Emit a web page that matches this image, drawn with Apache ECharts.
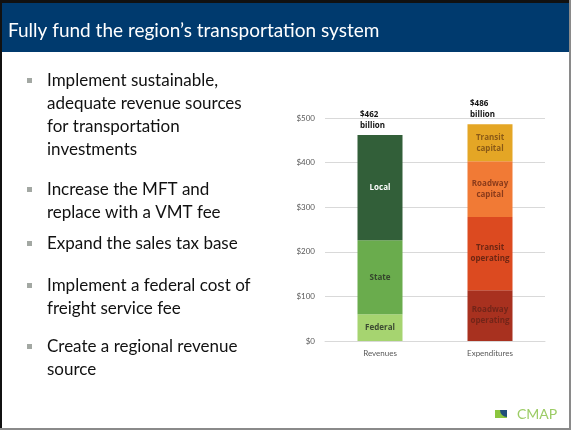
<!DOCTYPE html>
<html>
<head>
<meta charset="utf-8">
<script src="https://cdn.jsdelivr.net/npm/echarts@6/dist/echarts.min.js"></script>
<style>
  html, body { margin: 0; padding: 0; background: #fff; }
  #slide { width: 571px; height: 430px; }
</style>
</head>
<body>
<div id="slide"></div>
<script>
// chart data (billions of dollars)
let categories = ['Revenues', 'Expenditures'];
let revNames = ['Federal', 'State', 'Local'];
let revValues = [60, 166, 236];
let expNames = ['Roadway\noperating', 'Transit\noperating', 'Roadway\ncapital', 'Transit\ncapital'];
let expValues = [114, 164, 125, 83];
let totals = [462, 486];
let yTicks = [0, 100, 200, 300, 400, 500];

let revColors = ['#a6d470', '#6aac4d', '#325f39'];
let revText = ['#3c4a33', '#34452c', '#ffffff'];
let expColors = ['#a8311f', '#dc4a20', '#f17a35', '#e4a625'];
let expText = ['#732519', '#6e2613', '#8a3b1b', '#8a5a17'];

let bullets = [
    'Implement sustainable,\nadequate revenue sources\nfor transportation\ninvestments',
    'Increase the MFT and\nreplace with a VMT fee',
    'Expand the sales tax base',
    'Implement a federal cost of\nfreight service fee',
    'Create a regional revenue\nsource'
];
let bulletTops = [69, 178, 232, 274, 335];

let font = 'Lato, "Open Sans", sans-serif';
let labelFont = '"Open Sans", Lato, sans-serif';

function segLabel(color){
    return {
        show: true,
        position: 'inside',
        formatter: '{a}',
        color: color,
        fontSize: 8,
        fontWeight: 'bold',
        lineHeight: 11,
        fontFamily: labelFont
    };
}

let series = [];
revNames.forEach(function(n, i){
    series.push({
        name: n, type: 'bar', stack: 'total', barWidth: 45,
        data: [revValues[i], '-'],
        itemStyle: { color: revColors[i] },
        label: segLabel(revText[i])
    });
});
expNames.forEach(function(n, i){
    series.push({
        name: n, type: 'bar', stack: 'total', barWidth: 45,
        data: ['-', expValues[i]],
        itemStyle: { color: expColors[i] },
        label: segLabel(expText[i])
    });
});
// totals on top of stacks
series.push({
    name: 'total', type: 'bar', stack: 'total', barWidth: 45,
    data: [0, 0],
    itemStyle: { color: 'transparent' },
    label: {
        show: true,
        position: 'top',
        align: 'left',
        offset: [-20, -1],
        distance: 3,
        formatter: function(p){ return '$' + totals[p.dataIndex] + '\nbillion'; },
        color: '#111',
        fontSize: 8,
        fontWeight: 'bold',
        lineHeight: 11,
        fontFamily: labelFont
    }
});

// slide decoration: title bar, bullets, logo
let graphic = [
    { type: 'rect', shape: { x: 0, y: 0, width: 571, height: 430 }, style: { fill: '#fff' }, z: -10 },
    { type: 'rect', shape: { x: 0, y: 0, width: 571, height: 3 }, style: { fill: '#111' } },
    { type: 'rect', shape: { x: 0, y: 0, width: 2, height: 430 }, style: { fill: '#111' } },
    { type: 'rect', shape: { x: 569, y: 0, width: 2, height: 430 }, style: { fill: '#8a8a8a' } },
    { type: 'rect', shape: { x: 0, y: 428, width: 571, height: 2 }, style: { fill: '#8a8a8a' } },
    { type: 'rect', shape: { x: 2, y: 3, width: 567, height: 49 }, style: { fill: '#003a6e' } },
    { type: 'text', x: 8, y: 31, style: { text: 'Fully fund the region’s transportation system', fill: '#fff', fontSize: 19, fontFamily: font, verticalAlign: 'middle' } }
];
bullets.forEach(function(b, i){
    graphic.push({ type: 'rect', shape: { x: 27, y: bulletTops[i] + 9, width: 5, height: 5 }, style: { fill: '#a3a8a3' } });
    graphic.push({ type: 'text', x: 47, y: bulletTops[i], style: { text: b, fill: '#111', fontSize: 17, lineHeight: 23, fontFamily: font, verticalAlign: 'top' } });
});
graphic.push({ type: 'rect', shape: { x: 495, y: 410, width: 12, height: 8 }, style: { fill: '#8cc63f' } });
graphic.push({ type: 'sector', shape: { cx: 507, cy: 410, r0: 0, r: 7, startAngle: Math.PI / 2, endAngle: Math.PI }, style: { fill: '#1f4e79' } });
graphic.push({ type: 'text', x: 517, y: 414, style: { text: 'CMAP', fill: '#9ccc65', fontSize: 14, fontFamily: font, verticalAlign: 'middle' } });

let chart = echarts.init(document.getElementById('slide'));
chart.setOption({
    animation: false,
    graphic: graphic,
    grid: { left: 325, right: 26, top: 118, bottom: 89 },
    xAxis: {
        type: 'category',
        data: categories,
        axisTick: { show: false },
        axisLine: { lineStyle: { color: '#d9d9d9' } },
        axisLabel: { color: '#595959', fontSize: 8, fontFamily: font, margin: 8 }
    },
    yAxis: {
        type: 'value',
        min: yTicks[0],
        max: yTicks[yTicks.length - 1],
        interval: 100,
        axisLine: { show: false },
        axisTick: { show: false },
        axisLabel: { color: '#595959', fontSize: 8, fontFamily: font, margin: 10, formatter: '${value}' },
        splitLine: { lineStyle: { color: '#d9d9d9' } }
    },
    series: series
});
</script>
</body>
</html>
